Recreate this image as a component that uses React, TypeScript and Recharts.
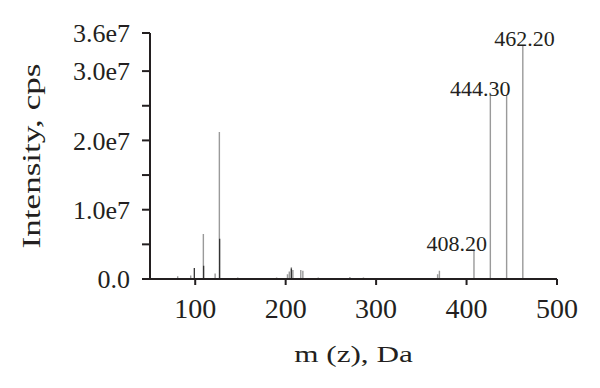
import { ComposedChart, Line, Scatter, XAxis, YAxis, Label } from "recharts";

// peak positions (m/z) and intensities
const grayMz = [80.6, 95, 109, 122, 126.7, 147, 190, 202, 204, 206.3, 208, 216.7, 219, 236, 271, 286, 317, 352, 368, 370, 408.2, 426.3, 444.3, 462.2];
const grayIntensity = [4e5, 5e5, 6.5e6, 8e5, 2.12e7, 2e5, 2e5, 7e5, 1.1e6, 1.7e6, 1.3e6, 1.3e6, 1.2e6, 2e5, 3e5, 2e5, 1.5e5, 1.5e5, 7e5, 1.2e6, 4.2e6, 2.65e7, 2.65e7, 3.37e7];

// darker overlapping segments near the base
const darkMz = [99, 109.3, 127, 206.3];
const darkIntensity = [1.6e6, 1.9e6, 5.8e6, 1.5e6];

const labelMz = [462.2, 444.3, 408.2];
const labelIntensity = [3.37e7, 2.65e7, 4.2e6];
const labelText = ["462.20", "444.30", "408.20"];
const labelDx = [32, 4, 13];

const xTicks = [100, 200, 300, 400, 500];
const yTicks = [0, 5e6, 1e7, 1.5e7, 2e7, 2.5e7, 3e7, 3.55e7];
const yTickLabels = ["0.0", "", "1.0e7", "", "2.0e7", "", "3.0e7", "3.6e7"];

// each peak becomes a vertical stick: base, top, then a gap
const sticks = (mz: number[], vals: number[]) =>
  mz.flatMap((m, i) => [
    { mz: m, intensity: 0 },
    { mz: m, intensity: vals[i] },
    { mz: m, intensity: null },
  ]);

const grayData = sticks(grayMz, grayIntensity);
const darkData = sticks(darkMz, darkIntensity);
const labelData = labelMz.map((m, i) => ({ mz: m, intensity: labelIntensity[i], idx: i }));

const FONT = "'Liberation Serif', 'DejaVu Serif', serif";
const INK = "#231f20";

const PeakLabel = (props: any) => {
  const { cx, cy, payload } = props;
  const i = payload.idx;
  return (
    <text x={cx + labelDx[i]} y={cy + 1} textAnchor="end" fill={INK} fontSize={22} fontFamily={FONT}>
      {labelText[i]}
    </text>
  );
};

// axis titles in the source are set wide, so stretch them along the text
const XTitle = ({ viewBox }: any) => {
  const cx = viewBox.x + viewBox.width / 2;
  const y = viewBox.y + 83;
  return (
    <text transform={`translate(${cx},${y}) scale(1.3,1)`} textAnchor="middle" fill={INK} fontSize={24} fontFamily={FONT}>
      m (z), Da
    </text>
  );
};

const YTitle = ({ viewBox }: any) => {
  const cy = viewBox.y + viewBox.height / 2;
  return (
    <text transform={`translate(40,${cy}) rotate(-90) scale(1.35,1)`} textAnchor="middle" fill={INK} fontSize={26} fontFamily={FONT}>
      Intensity, cps
    </text>
  );
};

export default function App() {
  return (
    <div style={{ position: "absolute", left: 0, top: 0, width: 600, height: 388, background: "#fff" }}>
      <ComposedChart width={600} height={388} margin={{ top: 33, right: 43, bottom: 0, left: 0 }}>
        <XAxis
          type="number"
          dataKey="mz"
          domain={[50, 500]}
          ticks={xTicks}
          allowDuplicatedCategory={false}
          height={109}
          tick={{ fill: INK, fontSize: 28, fontFamily: FONT }}
          tickSize={6}
          tickMargin={13}
          axisLine={{ stroke: INK, strokeWidth: 2 }}
          tickLine={{ stroke: INK, strokeWidth: 2 }}
        >
          <Label content={<XTitle />} />
        </XAxis>
        <YAxis
          type="number"
          dataKey="intensity"
          domain={[0, 3.55e7]}
          ticks={yTicks}
          interval={0}
          width={150}
          tick={{ fill: INK, fontSize: 26, fontFamily: FONT }}
          tickSize={8}
          tickMargin={12}
          tickFormatter={(v: number) => yTickLabels[yTicks.indexOf(v)] ?? ""}
          axisLine={{ stroke: INK, strokeWidth: 2 }}
          tickLine={{ stroke: INK, strokeWidth: 2 }}
        >
          <Label content={<YTitle />} />
        </YAxis>
        <Line data={grayData} dataKey="intensity" type="linear" stroke="#9a9a9a" strokeWidth={1.4} dot={false} connectNulls={false} isAnimationActive={false} />
        <Line data={darkData} dataKey="intensity" type="linear" stroke="#333" strokeWidth={1.3} dot={false} connectNulls={false} isAnimationActive={false} />
        <Scatter data={labelData} dataKey="intensity" shape={<PeakLabel />} isAnimationActive={false} />
      </ComposedChart>
    </div>
  );
}
